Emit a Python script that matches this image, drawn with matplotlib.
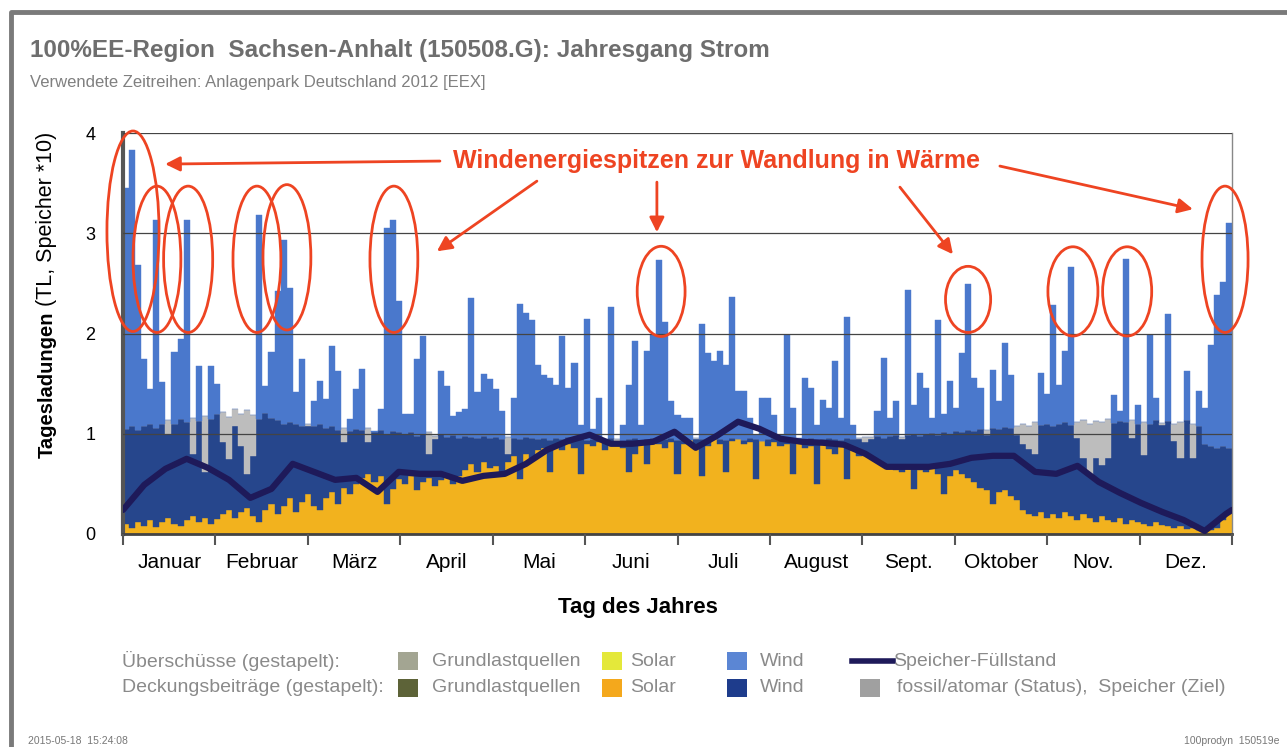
# -*- coding: utf-8 -*-
# Jahresgang Strom - 100%EE-Region Sachsen-Anhalt
import numpy as np
import matplotlib
matplotlib.use('Agg')
import matplotlib.pyplot as plt
from matplotlib.patches import Ellipse, Rectangle
from matplotlib.lines import Line2D

### Data (2-day bins, values in Tagesladungen)
months = ['Januar', 'Februar', 'März', 'April', 'Mai', 'Juni', 'Juli',
          'August', 'Sept.', 'Oktober', 'Nov.', 'Dez.']

# top of the wind bars (solar + wind)
wind_top = [3.45, 3.83, 2.68, 1.75, 1.45, 3.13, 1.52, 1.00, 1.82, 1.95, 3.13, 0.80, 1.68, 0.62, 1.68, 1.50,
            0.92, 0.75, 1.08, 0.88, 0.60, 0.78, 3.18, 1.48, 1.82, 2.42, 2.93, 2.45, 1.42, 1.75, 1.08,
            1.33, 1.53, 1.35, 1.88, 1.63, 0.92, 1.15, 1.45, 1.65, 0.92, 1.03, 1.25, 3.05, 3.13, 2.32,
            1.20, 1.20, 1.75, 1.98, 0.80, 0.95, 1.63, 1.48, 1.18, 1.22, 1.25, 2.35, 1.42, 1.60, 1.55,
            1.45, 1.23, 0.80, 1.36, 2.29, 2.20, 2.13, 1.69, 1.59, 1.56, 1.49, 1.98, 1.46, 1.71, 1.09, 2.14,
            1.05, 1.36, 0.95, 2.26, 0.92, 1.09, 1.49, 1.93, 1.09, 1.83, 1.99, 2.73, 2.11, 1.33, 1.19,
            1.16, 1.16, 0.95, 2.09, 1.81, 1.73, 1.83, 1.69, 2.36, 1.43, 1.43, 1.16, 0.99, 1.36, 1.36, 1.19,
            0.99, 1.99, 1.26, 0.96, 1.56, 1.46, 1.09, 1.34, 1.26, 1.73, 1.16, 2.16, 1.09, 0.95, 0.92,
            0.95, 1.23, 1.76, 1.16, 1.33, 0.95, 2.43, 1.29, 1.61, 1.46, 1.16, 2.13, 1.20, 1.53, 1.26,
            1.81, 2.49, 1.56, 1.46, 0.99, 1.64, 1.33, 1.91, 1.59, 0.99, 0.90, 0.85, 0.80, 1.61, 1.40,
            2.28, 1.49, 1.83, 2.66, 0.96, 0.76, 0.59, 0.76, 0.69, 0.76, 1.39, 1.23, 2.74, 0.96, 1.29,
            0.79, 1.99, 1.36, 1.09, 2.19, 0.93, 0.76, 1.63, 0.76, 1.43, 1.26, 1.89, 2.38, 2.51, 3.10]

# top of the solar contribution
solar = [0.10, 0.06, 0.12, 0.08, 0.14, 0.07, 0.12, 0.16, 0.10, 0.08, 0.14, 0.18, 0.12, 0.16, 0.10, 0.15,
         0.20, 0.24, 0.16, 0.22, 0.26, 0.18, 0.12, 0.24, 0.30, 0.20, 0.28, 0.36, 0.22, 0.32, 0.40,
         0.28, 0.24, 0.36, 0.42, 0.30, 0.46, 0.40, 0.50, 0.56, 0.60, 0.52, 0.58, 0.30, 0.45, 0.55,
         0.50, 0.58, 0.44, 0.52, 0.56, 0.48, 0.54, 0.60, 0.50, 0.58, 0.64, 0.70, 0.62, 0.72, 0.66,
         0.68, 0.60, 0.72, 0.78, 0.55, 0.80, 0.74, 0.84, 0.86, 0.62, 0.88, 0.84, 0.90, 0.86, 0.60, 0.90,
         0.88, 0.92, 0.84, 0.90, 0.94, 0.86, 0.62, 0.80, 0.92, 0.70, 0.94, 0.90, 0.86, 0.92, 0.60,
         0.90, 0.94, 0.86, 0.58, 0.88, 0.95, 0.90, 0.62, 0.93, 0.96, 0.90, 0.92, 0.55, 0.94, 0.88, 0.92,
         0.88, 0.90, 0.60, 0.92, 0.86, 0.88, 0.50, 0.90, 0.85, 0.80, 0.88, 0.55, 0.84, 0.78, 0.80,
         0.78, 0.74, 0.70, 0.66, 0.64, 0.62, 0.66, 0.45, 0.64, 0.62, 0.66, 0.60, 0.40, 0.58, 0.64,
         0.60, 0.56, 0.52, 0.46, 0.44, 0.30, 0.42, 0.44, 0.38, 0.34, 0.24, 0.20, 0.18, 0.22, 0.16,
         0.20, 0.16, 0.22, 0.18, 0.14, 0.20, 0.16, 0.12, 0.18, 0.14, 0.12, 0.16, 0.10, 0.14, 0.12,
         0.10, 0.08, 0.12, 0.09, 0.08, 0.06, 0.08, 0.05, 0.06, 0.04, 0.05, 0.04, 0.06, 0.14, 0.22]

# demand level (top of grey fossil/storage block)
demand = [1.05, 1.08, 1.04, 1.08, 1.10, 1.06, 1.10, 1.14, 1.10, 1.15, 1.12, 1.16, 1.13, 1.18, 1.15, 1.20,
          1.22, 1.17, 1.25, 1.20, 1.24, 1.19, 1.15, 1.21, 1.16, 1.14, 1.10, 1.12, 1.10, 1.08, 1.10,
          1.08, 1.10, 1.06, 1.08, 1.04, 1.06, 1.03, 1.05, 1.04, 1.06, 1.02, 1.04, 1.00, 1.03, 1.02,
          1.00, 1.02, 0.98, 1.00, 1.02, 0.98, 1.00, 0.97, 0.99, 0.96, 0.98, 0.97, 0.96, 0.98, 0.96,
          0.97, 0.95, 0.97, 0.96, 0.95, 0.97, 0.96, 0.95, 0.96, 0.94, 0.96, 0.95, 0.97, 0.95, 0.96, 0.94,
          0.95, 0.96, 0.94, 0.96, 0.95, 0.93, 0.95, 0.96, 0.94, 0.95, 0.96, 0.94, 0.95, 0.96, 0.94,
          0.95, 0.94, 0.96, 0.95, 0.93, 0.96, 0.95, 0.94, 0.96, 0.95, 0.94, 0.96, 0.95, 0.93, 0.95, 0.96,
          0.94, 0.95, 0.96, 0.94, 0.95, 0.96, 0.94, 0.95, 0.96, 0.95, 0.94, 0.96, 0.95, 0.96, 0.97,
          0.97, 0.98, 0.96, 0.98, 0.99, 0.97, 0.99, 1.00, 0.98, 1.00, 1.01, 0.99, 1.02, 1.00, 1.03,
          1.02, 1.04, 1.03, 1.05, 1.04, 1.06, 1.05, 1.07, 1.06, 1.08, 1.10, 1.08, 1.12, 1.09, 1.10,
          1.08, 1.10, 1.12, 1.09, 1.12, 1.14, 1.10, 1.13, 1.12, 1.15, 1.11, 1.13, 1.12, 1.14, 1.10,
          1.12, 1.10, 1.14, 1.11, 1.13, 1.10, 1.12, 1.14, 1.10, 1.08, 0.90, 0.88, 0.86, 0.88, 0.86]

# Speicher-Füllstand (weekly readings)
storage_day = [0, 7, 14, 21, 28, 35, 42, 49, 56, 63, 70, 77, 84, 91, 98, 105, 112, 119, 126, 133,
               140, 147, 154, 161, 168, 175, 182, 189, 196, 203, 210, 217, 224, 231, 238, 245,
               252, 259, 266, 273, 280, 287, 294, 301, 308, 315, 322, 329, 336, 343, 350, 357, 364, 366]
storage = [0.24, 0.49, 0.65, 0.75, 0.66, 0.54, 0.36, 0.45, 0.70, 0.62, 0.54, 0.56, 0.42, 0.62,
           0.60, 0.60, 0.53, 0.58, 0.60, 0.70, 0.84, 0.93, 0.99, 0.90, 0.90, 0.92, 1.02, 0.86,
           0.98, 1.12, 1.05, 0.95, 0.92, 0.91, 0.89, 0.80, 0.67, 0.67, 0.67, 0.70, 0.76, 0.78,
           0.78, 0.62, 0.60, 0.68, 0.52, 0.41, 0.31, 0.22, 0.14, 0.03, 0.20, 0.24]

###########################################
# Stacking
###########################################
solar = np.array(solar)
wind_top = np.array(wind_top)
demand = np.array(demand)
x = np.arange(len(solar)) * 2.0

cov_top = np.minimum(wind_top, demand)
wind_cov = cov_top - solar
grey = np.maximum(demand - wind_top, 0)
wind_sur = np.maximum(wind_top - demand, 0)

C_SOLAR = '#f2b21e'
C_WCOV = '#26468c'
C_WSUR = '#4a78cc'
C_GREY = '#bdbdbd'
C_STOR = '#1e1a5a'
C_RED = '#ee4422'
C_TXT = '#8a8a8a'

W, H = 1287, 747
fig = plt.figure(figsize=(W / 100, H / 100), dpi=100)
plt.rcParams['font.family'] = ['Liberation Sans', 'DejaVu Sans']

ax = fig.add_axes([123 / W, 1 - 534 / H, (1232 - 123) / W, (534 - 133) / H])

kw = dict(width=2.0, align='edge', linewidth=0.3)
ax.bar(x, solar, color=C_SOLAR, edgecolor=C_SOLAR, **kw)
ax.bar(x, wind_cov, bottom=solar, color=C_WCOV, edgecolor=C_WCOV, **kw)
ax.bar(x, grey, bottom=cov_top, color=C_GREY, edgecolor=C_GREY, **kw)
ax.bar(x, wind_sur, bottom=demand, color=C_WSUR, edgecolor=C_WSUR, **kw)
ax.plot(storage_day, storage, color=C_STOR, lw=4.5, zorder=4, solid_capstyle='round')

ax.set_xlim(0, 366)
ax.set_ylim(0, 4)
ax.set_axisbelow(False)
ax.yaxis.grid(True, color='#444444', lw=0.9)
ax.set_yticks([0, 1, 2, 3, 4])
ax.tick_params(axis='y', length=0, pad=20, labelsize=13)

mlen = 366 / 12.0
ax.set_xticks([mlen * i for i in range(13)])
ax.set_xticklabels([])
ax.set_xticks([mlen * (i + 0.5) for i in range(12)], minor=True)
ax.set_xticklabels(months, minor=True, fontsize=15)
ax.tick_params(axis='x', which='major', length=8, width=1.5, color='#555555')
ax.tick_params(axis='x', which='minor', length=0, pad=14)

ax.spines['top'].set_visible(False)
ax.spines['right'].set_color('#888888')
ax.spines['right'].set_linewidth(1)
ax.spines['left'].set_color('#555555')
ax.spines['left'].set_linewidth(3)
ax.spines['bottom'].set_color('#444444')
ax.spines['bottom'].set_linewidth(2)

### Annotations
ax.text(196, 3.72, 'Windenergiespitzen zur Wandlung in Wärme', color=C_RED,
        fontsize=18, fontweight='bold', ha='center', va='center')

ellipses = [(3.3, 3.02, 17.2, 2.0), (11.2, 2.74, 15.8, 1.46), (21.5, 2.74, 16.2, 1.46),
            (44.2, 2.74, 15.8, 1.46), (54.1, 2.76, 15.8, 1.45), (89.4, 2.74, 15.8, 1.46),
            (177.6, 2.42, 15.8, 0.9), (278.9, 2.34, 14.9, 0.66), (313.5, 2.42, 16.5, 0.89),
            (331.4, 2.42, 16.2, 0.89), (363.7, 2.74, 15.2, 1.46)]
for cx, cy, w, h in ellipses:
    ax.add_patch(Ellipse((cx, cy), w, h, fill=False, edgecolor=C_RED, lw=2,
                         clip_on=False, zorder=6))

arrows = [((104.6, 3.72), (13.9, 3.69)), ((136.6, 3.52), (103.6, 2.82)),
          ((176.2, 3.51), (176.2, 3.01)), ((256.4, 3.46), (273.9, 2.79)),
          ((289.4, 3.67), (353.1, 3.24))]
for tail, head in arrows:
    ax.annotate('', xy=head, xytext=tail, annotation_clip=False,
                arrowprops=dict(arrowstyle='-|>', color=C_RED, lw=2,
                                mutation_scale=22, shrinkA=0, shrinkB=0))

### Labels
def fx(px):
    return px / W

def fy(py):
    return 1 - py / H

fig.text(fx(30), fy(50), '100%EE-Region  Sachsen-Anhalt (150508.G): Jahresgang Strom',
         fontsize=17.5, fontweight='bold', color='#6e6e6e', va='center')
fig.text(fx(30), fy(82), 'Verwendete Zeitreihen: Anlagenpark Deutschland 2012 [EEX]',
         fontsize=12, color='#808080', va='center')
fig.text(fx(47), fy(385), 'Tagesladungen', rotation=90, fontsize=14.5, fontweight='bold',
         ha='center', va='center')
fig.text(fx(47), fy(219), '(TL, Speicher *10)', rotation=90, fontsize=15.5,
         ha='center', va='center')
fig.text(fx(638), fy(607), 'Tag des Jahres', fontsize=16, fontweight='bold',
         ha='center', va='center')

### Legend (hand-built)
r1, r2 = 661, 688
LF = 14
fig.text(fx(122), fy(r1), 'Überschüsse (gestapelt):', fontsize=LF, color=C_TXT, va='center')
fig.text(fx(122), fy(r2), 'Deckungsbeiträge (gestapelt):', fontsize=LF, color=C_TXT, va='center')
legend_rows = [(r1, ['#a3a592', '#e4e83a', '#5b86d4']), (r2, ['#5d6338', '#f4a81c', '#1e3c8c'])]
for ry, cols in legend_rows:
    for px, col, lab, tx in zip([398, 602, 727], cols, ['Grundlastquellen', 'Solar', 'Wind'],
                                [432, 630, 760]):
        fig.add_artist(Rectangle((fx(px), fy(ry + 9)), 20 / W, 18 / H, transform=fig.transFigure,
                                 facecolor=col, edgecolor='none'))
        fig.text(fx(tx), fy(ry), lab, fontsize=LF, color=C_TXT, va='center')
fig.add_artist(Line2D([fx(852), fx(893)], [fy(r1), fy(r1)], color=C_STOR, lw=4,
                      transform=fig.transFigure))
fig.text(fx(893), fy(r1), 'Speicher-Füllstand', fontsize=LF, color=C_TXT, va='center')
fig.add_artist(Rectangle((fx(860), fy(r2 + 9)), 20 / W, 18 / H, transform=fig.transFigure,
                         facecolor='#a0a0a0', edgecolor='none'))
fig.text(fx(897), fy(r2), 'fossil/atomar (Status),  Speicher (Ziel)', fontsize=LF,
         color=C_TXT, va='center')

fig.text(fx(28), fy(741), '2015-05-18  15:24:08', fontsize=7.5, color='#777777', va='center')
fig.text(fx(1280), fy(741), '100prodyn  150519e', fontsize=7.5, color='#777777',
         va='center', ha='right')

# outer frame
fig.add_artist(Line2D([fx(11), fx(11), fx(1287)], [fy(747), fy(12), fy(12)], color='#7a7a7a',
                      lw=3.5, transform=fig.transFigure))

fig.savefig('out.png', dpi=100)
